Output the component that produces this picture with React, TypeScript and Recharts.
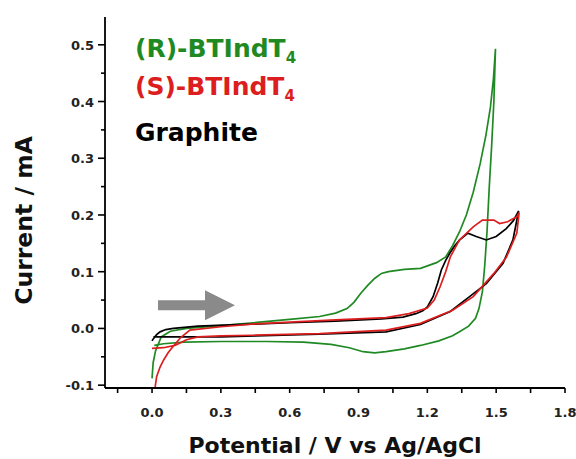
import { LineChart, Line, XAxis, YAxis, Legend, ReferenceDot } from 'recharts';

// (R)-BTIndT4 cyclic voltammogram, potential in V and current in mA
const rPotential = [0.0, 0.005, 0.015, 0.04, 0.08, 0.15, 0.3, 0.44, 0.6, 0.73, 0.8, 0.85, 0.88, 0.91, 0.94, 0.97, 1.0, 1.03, 1.1, 1.17, 1.24, 1.28, 1.31, 1.34, 1.37, 1.4, 1.43, 1.455, 1.475, 1.488, 1.497, 1.49, 1.48, 1.47, 1.46, 1.45, 1.44, 1.425, 1.41, 1.38, 1.34, 1.31, 1.25, 1.17, 1.1, 1.02, 0.97, 0.92, 0.86, 0.78, 0.66, 0.5, 0.3, 0.14, 0.05, 0.01];
const rCurrent = [-0.088, -0.06, -0.04, -0.015, -0.005, 0.0, 0.005, 0.01, 0.016, 0.021, 0.027, 0.035, 0.046, 0.062, 0.076, 0.088, 0.097, 0.1, 0.104, 0.106, 0.116, 0.126, 0.146, 0.17, 0.2, 0.24, 0.29, 0.34, 0.39, 0.44, 0.493, 0.4, 0.32, 0.25, 0.17, 0.11, 0.065, 0.035, 0.018, 0.004, -0.006, -0.013, -0.022, -0.03, -0.036, -0.041, -0.043, -0.041, -0.034, -0.028, -0.024, -0.023, -0.023, -0.024, -0.027, -0.03];

// (S)-BTIndT4
const sPotential = [0.013, 0.02, 0.035, 0.05, 0.07, 0.095, 0.125, 0.165, 0.3, 0.45, 0.6, 0.8, 1.02, 1.12, 1.2, 1.23, 1.255, 1.28, 1.3, 1.34, 1.4, 1.44, 1.49, 1.515, 1.55, 1.59, 1.6, 1.59, 1.545, 1.49, 1.4, 1.31, 1.17, 1.02, 0.73, 0.44, 0.3, 0.2, 0.15, 0.1, 0.05, 0.0];
const sCurrent = [-0.105, -0.085, -0.068, -0.056, -0.043, -0.03, -0.016, -0.003, 0.003, 0.008, 0.011, 0.015, 0.019, 0.026, 0.036, 0.05, 0.073, 0.1, 0.126, 0.156, 0.179, 0.191, 0.191, 0.185, 0.188, 0.197, 0.204, 0.168, 0.126, 0.097, 0.056, 0.032, 0.009, -0.003, -0.009, -0.012, -0.013, -0.015, -0.02, -0.03, -0.034, -0.035];

// bare graphite
const gPotential = [0.0, 0.006, 0.02, 0.035, 0.06, 0.093, 0.2, 0.4, 0.6, 0.8, 1.0, 1.094, 1.15, 1.18, 1.2, 1.225, 1.245, 1.261, 1.28, 1.297, 1.32, 1.341, 1.377, 1.413, 1.457, 1.5, 1.544, 1.575, 1.598, 1.573, 1.53, 1.457, 1.384, 1.3, 1.17, 1.02, 0.73, 0.45, 0.3, 0.15, 0.006];
const gCurrent = [-0.022, -0.018, -0.011, -0.006, -0.002, 0.0, 0.004, 0.007, 0.01, 0.013, 0.017, 0.02, 0.026, 0.031, 0.038, 0.056, 0.08, 0.103, 0.12, 0.132, 0.146, 0.156, 0.168, 0.162, 0.156, 0.162, 0.176, 0.19, 0.207, 0.156, 0.115, 0.079, 0.056, 0.03, 0.007, -0.006, -0.01, -0.013, -0.015, -0.015, -0.015];

const seriesNames = ['(R)-BTIndT', '(S)-BTIndT', 'Graphite'];
const seriesSubs = ['4', '4', ''];

const xTicks = [-0.15, 0, 0.15, 0.3, 0.45, 0.6, 0.75, 0.9, 1.05, 1.2, 1.35, 1.5, 1.65, 1.8];
const yTicks = [-0.1, -0.05, 0, 0.05, 0.1, 0.15, 0.2, 0.25, 0.3, 0.35, 0.4, 0.45, 0.5];

// where the scan starts, arrow points in the forward direction
const arrowStart = { v: 0.026, i: 0.041 };

const FONT = '"DejaVu Sans", sans-serif';
const GREEN = '#1f8a24';
const RED = '#dc1e1e';
const BLACK = '#000000';
const seriesColors = [GREEN, RED, BLACK];

const toPoints = (v: number[], c: number[]) => v.map((x, k) => ({ v: x, i: c[k] }));

const isMajor = (val: number, step: number) => Math.abs(val / step - Math.round(val / step)) < 1e-6;

const XTick = (props: any) => {
  const { x, y, payload } = props;
  const major = isMajor(payload.value, 0.3);
  return (
    <g>
      <line x1={x} y1={y} x2={x} y2={y + 5} stroke="#000" strokeWidth={1.6} />
      {major && (
        <text x={x} y={y + 29} textAnchor="middle" fontFamily={FONT} fontWeight="bold" fontSize={13} fill="#222">
          {payload.value.toFixed(1)}
        </text>
      )}
    </g>
  );
};

const YTick = (props: any) => {
  const { x, y, payload } = props;
  const major = isMajor(payload.value, 0.1);
  return (
    <g>
      <line x1={x} y1={y} x2={x - (major ? 7 : 4)} y2={y} stroke="#000" strokeWidth={1.6} />
      {major && (
        <text x={x - 11} y={y + 5} textAnchor="end" fontFamily={FONT} fontWeight="bold" fontSize={13} fill="#222">
          {payload.value.toFixed(1)}
        </text>
      )}
    </g>
  );
};

const Arrow = (props: any) => {
  const { cx, cy } = props;
  const d = `M${cx},${cy - 5} L${cx + 47},${cy - 5} L${cx + 47},${cy - 15} L${cx + 77},${cy} L${cx + 47},${cy + 15} L${cx + 47},${cy + 5} L${cx},${cy + 5} Z`;
  return <path d={d} fill="#8a8a8a" />;
};

const LegendText = () => (
  <div style={{ fontFamily: FONT, fontWeight: 'bold', fontSize: 25 }}>
    {seriesNames.map((name, k) => (
      <div
        key={name}
        style={{ color: seriesColors[k], lineHeight: '40px', height: 40, marginTop: k === 2 ? 6 : k === 1 ? -2 : 0, whiteSpace: 'nowrap' }}
      >
        {name}
        {seriesSubs[k] && (
          <span style={{ fontSize: 15, position: 'relative', top: 6 }}>{seriesSubs[k]}</span>
        )}
      </div>
    ))}
  </div>
);

const YLabel = (props: any) => {
  const { viewBox } = props;
  const cx = viewBox.x + 24;
  const cy = viewBox.y + viewBox.height / 2 + 18;
  return (
    <text
      x={cx}
      y={cy}
      transform={`rotate(-90 ${cx} ${cy})`}
      textAnchor="middle"
      dominantBaseline="central"
      fontFamily={FONT}
      fontWeight="bold"
      fontSize={23.5}
      fill="#111"
    >
      Current / mA
    </text>
  );
};

const App = () => {
  return (
    <div style={{ position: 'absolute', left: 0, top: 0, background: '#fff' }}>
      <LineChart width={576} height={459} margin={{ top: 17, right: 11, bottom: 0, left: 0 }}>
        <XAxis
          dataKey="v"
          type="number"
          domain={[-0.205, 1.8]}
          allowDataOverflow
          ticks={xTicks}
          interval={0}
          tick={<XTick />}
          tickSize={0}
          tickMargin={0}
          tickLine={false}
          height={71}
          axisLine={{ stroke: '#000', strokeWidth: 1.8 }}
          label={{
            value: 'Potential / V vs Ag/AgCl',
            position: 'insideBottom',
            offset: 6,
            style: { fontFamily: FONT, fontWeight: 'bold', fontSize: 22, fill: '#111' },
          }}
        />
        <XAxis
          xAxisId="top"
          orientation="top"
          type="number"
          domain={[-0.205, 1.8]}
          allowDataOverflow
          tick={false}
          tickLine={false}
          height={0}
          axisLine={{ stroke: '#000', strokeWidth: 1.8 }}
        />
        <YAxis
          type="number"
          domain={[-0.105, 0.549]}
          allowDataOverflow
          ticks={yTicks}
          interval={0}
          tick={<YTick />}
          tickSize={0}
          tickMargin={0}
          tickLine={false}
          width={105}
          axisLine={{ stroke: '#000', strokeWidth: 1.8 }}
          label={<YLabel />}
        />
        <YAxis
          yAxisId="right"
          orientation="right"
          type="number"
          domain={[-0.105, 0.549]}
          allowDataOverflow
          tick={false}
          tickLine={false}
          width={0}
          axisLine={{ stroke: '#000', strokeWidth: 1.8 }}
        />
        <Legend
          layout="vertical"
          align="center"
          verticalAlign="middle"
          content={<LegendText />}
          wrapperStyle={{ left: 135, top: 29, width: 220, height: 130 }}
        />
        <ReferenceDot x={arrowStart.v} y={arrowStart.i} r={0} shape={<Arrow />} />
        <Line
          data={toPoints(rPotential, rCurrent)}
          dataKey="i"
          name={seriesNames[0]}
          type="linear"
          stroke={GREEN}
          strokeWidth={1.7}
          dot={false}
          isAnimationActive={false}
        />
        <Line
          data={toPoints(gPotential, gCurrent)}
          dataKey="i"
          name={seriesNames[2]}
          type="linear"
          stroke={BLACK}
          strokeWidth={1.7}
          dot={false}
          isAnimationActive={false}
        />
        <Line
          data={toPoints(sPotential, sCurrent)}
          dataKey="i"
          name={seriesNames[1]}
          type="linear"
          stroke={RED}
          strokeWidth={1.7}
          dot={false}
          isAnimationActive={false}
        />
      </LineChart>
    </div>
  );
};

export default App;
